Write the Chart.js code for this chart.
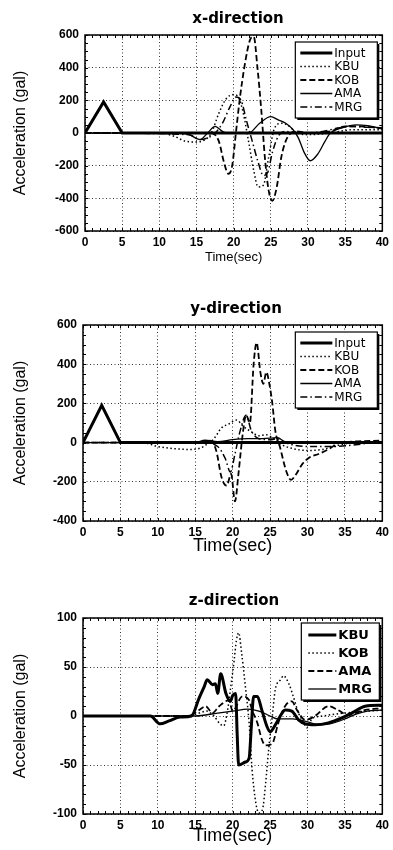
<!DOCTYPE html>
<html>
<head>
<meta charset="utf-8">
<script src="https://cdn.jsdelivr.net/npm/chart.js@4.4.1/dist/chart.umd.min.js"></script>
<style>
html, body { margin: 0; padding: 0; background: #fff; width: 393px; height: 850px; overflow: hidden; }
.panel { position: absolute; left: 0; width: 393px; }
.ttl { position: absolute; font: bold 15px "DejaVu Sans", sans-serif; color: #000; transform: translate(-50%, -50%); white-space: nowrap; }
</style>
</head>
<body>
<div class="panel" style="top:0"><canvas id="cx" width="393" height="275"></canvas></div>
<div class="panel" style="top:290px"><canvas id="cy" width="393" height="270"></canvas></div>
<div class="panel" style="top:580px"><canvas id="cz" width="393" height="270"></canvas></div>
<div class="ttl" style="left:238px;top:18px">x-direction</div>
<div class="ttl" style="left:236px;top:308px">y-direction</div>
<div class="ttl" style="left:234px;top:600px">z-direction</div>
<script>
// x-direction (gal vs sec)
const xInputT = [0, 2.5, 5, 40];
const xInputV = [0, 190, 0, 0];
const xKbuT = [0, 10, 12, 13.5, 15, 16, 17, 18, 19, 20, 20.7, 21.3, 22, 22.7, 23.3, 24, 24.7, 25.5, 26.5, 27.5, 28.5, 30, 33, 36, 40];
const xKbuV = [0, 0, -20, -50, -55, -45, 0, 120, 210, 235, 215, 120, -50, -230, -330, -320, -150, 30, 60, 40, 0, -10, 0, 20, 20];
const xKobT = [0, 17, 18, 18.7, 19.3, 19.8, 20.3, 20.8, 21.5, 22.2, 22.7, 23.2, 23.7, 24.2, 24.7, 25.2, 25.8, 26.4, 27, 27.7, 28.5, 30, 33, 35, 37, 40];
const xKobV = [0, 0, -50, -180, -250, -200, 0, 200, 420, 570, 590, 400, 150, -150, -350, -415, -330, -150, -50, 0, 10, 0, 10, 40, 40, 30];
const xAmaT = [0, 13, 14, 15.5, 16.5, 17.5, 18.5, 19, 22, 23.5, 25, 26, 27, 28, 28.7, 29.5, 30.3, 31.3, 32.3, 33, 34.5, 36.5, 38, 40];
const xAmaV = [0, 0, -10, -40, 0, 40, 10, 0, 0, 60, 100, 80, 60, 20, -30, -120, -170, -130, -50, 0, 30, 50, 45, 25];
const xMrgT = [0, 14, 15.5, 16.5, 17.5, 18.5, 19.5, 20.3, 21, 21.7, 22.5, 23.3, 24, 24.6, 25.2, 26, 27, 28, 30, 32, 34, 36, 38, 40];
const xMrgV = [0, -10, -40, -30, 0, 60, 160, 220, 200, 80, -50, -180, -260, -240, -120, -20, 10, 0, 0, 10, 30, 40, 35, 30];

// y-direction
const yInputT = [0, 2.5, 5, 40];
const yInputV = [0, 190, 0, 0];
const yKbuT = [0, 8, 10, 12, 14, 15.5, 16.5, 17.5, 18.5, 19.5, 20.5, 21.5, 22.5, 23.5, 24.5, 25.5, 26.5, 28, 30, 32, 34, 36, 40];
const yKbuV = [0, 0, -20, -30, -35, -30, -10, 20, 75, 95, 115, 80, 55, 35, 40, 20, -10, -30, -40, -35, -15, 0, 5];
const yKobT = [0, 16, 17, 17.8, 18.5, 19.2, 19.8, 20.3, 20.8, 21.3, 21.8, 22.3, 22.8, 23.2, 23.7, 24.1, 24.5, 24.9, 25.3, 25.7, 26.3, 27.2, 27.8, 28.5, 29.3, 30.3, 31.5, 33, 34, 36, 40];
const yKobV = [0, 0, 10, -40, -175, -220, -160, -300, -150, 30, 140, 100, 400, 510, 360, 300, 360, 300, 200, 60, -20, -150, -190, -160, -110, -75, -58, -30, -5, 5, 10];
const yAmaT = [0, 15, 16.3, 18, 20, 22, 24, 26, 27, 30, 40];
const yAmaV = [0, 0, 12, 5, 15, 20, 20, 25, 5, 0, 5];
const yMrgT = [0, 16, 18, 19, 19.7, 20.3, 21, 21.8, 22.5, 23.5, 25, 26, 27, 30, 33, 40];
const yMrgV = [0, 0, -20, -80, -150, -60, 60, 140, 60, 20, 15, 20, 0, -20, -20, 5];

// z-direction
const zKbuT = [0, 9, 10.3, 11.5, 13, 14.5, 15.5, 16.2, 16.6, 17.3, 17.7, 18, 18.4, 19.1, 19.7, 20, 20.4, 20.6, 20.8, 21.7, 22.2, 22.5, 22.8, 23.3, 23.9, 24.6, 25, 25.7, 26.6, 27, 27.9, 28.8, 29.7, 31, 32.8, 34.6, 35.9, 37.7, 40];
const zKbuV = [0, 0, -8, -5, -1, 0, 18, 30, 37, 32, 33, 23, 43, 23, 15, 21, 23, -18, -50, -47, -43, -10, 20, 20, 6, -11, -16, -9, 3, 6, 5, -4, -8, -9, -7, -2, 3, 10, 11];
const zKobT = [0, 14, 15.5, 16.5, 17.5, 18.3, 18.8, 19.3, 19.7, 20.2, 20.5, 20.8, 21.2, 21.7, 22.2, 22.6, 23.1, 23.5, 24, 24.4, 24.8, 25.3, 25.7, 26.4, 26.8, 27.5, 28.1, 28.8, 29.5, 29.9, 30.6, 32, 35, 40];
const zKobV = [0, 0, 3, 5, 0, -8, -10, 5, 27, 57, 77, 85, 64, 30, -7, -55, -89, -99, -95, -69, -35, 0, 27, 37, 41, 33, 20, 3, -7, -12, -3, 0, 3, 6];
const zAmaT = [0, 14, 15.5, 16.4, 17.3, 18.2, 19.5, 20, 21.3, 22.2, 22.6, 23.3, 23.9, 24.4, 25.3, 26.1, 27, 27.9, 28.6, 29.7, 31, 32.8, 34.1, 35.4, 37.6, 40];
const zAmaV = [0, 0, 6, 10, 3, 10, 16, 5, 20, 16, 6, -7, -24, -30, -28, -7, 10, 15, 6, -4, 0, 10, 6, 1, 6, 8];
const zMrgT = [0, 15, 18, 20, 22, 23.5, 25, 26, 28, 30, 31.5, 33, 35, 36.5, 38, 40];
const zMrgV = [0, 0, 3, 5, 7, 5, 0, -3, -3, -6, -9, -8, -3, 2, 5, 6];

// line looks
const THICK = { borderWidth: 3, borderDash: [] };
const DOT = { borderWidth: 1.5, borderDash: [1.5, 2.5] };
const DASH = { borderWidth: 1.8, borderDash: [6, 3] };
const THIN = { borderWidth: 1.3, borderDash: [] };
const DASHDOT = { borderWidth: 1.5, borderDash: [7, 3, 1.5, 3] };

const pts = (t, v) => t.map((tt, i) => ({ x: tt, y: v[i] }));

function series(label, t, v, look, sharp) {
    return {
        label: label,
        data: pts(t, v),
        borderColor: '#000',
        borderWidth: look.borderWidth,
        borderDash: look.borderDash,
        pointRadius: 0,
        fill: false,
        tension: sharp ? 0 : 0.4,
        cubicInterpolationMode: sharp ? 'default' : 'monotone'
    };
}

// frame, minor ticks and the in-plot legend
const framePlugin = {
    id: 'frame',
    afterDraw(chart, args, opts) {
        const { ctx, chartArea: a, scales: { x, y } } = chart;
        ctx.save();
        ctx.strokeStyle = '#000';
        ctx.setLineDash([]);
        ctx.lineWidth = 1;
        ctx.beginPath();
        for (let t = 0; t <= 40; t += 1) {
            const px = Math.round(x.getPixelForValue(t)) + 0.5;
            ctx.moveTo(px, a.top); ctx.lineTo(px, a.top + 3);
            ctx.moveTo(px, a.bottom); ctx.lineTo(px, a.bottom - 3);
        }
        for (let v = y.min; v <= y.max; v += opts.yMinor) {
            const py = Math.round(y.getPixelForValue(v)) + 0.5;
            ctx.moveTo(a.left, py); ctx.lineTo(a.left + 3, py);
            ctx.moveTo(a.right, py); ctx.lineTo(a.right - 3, py);
        }
        ctx.stroke();
        ctx.lineWidth = 1.5;
        ctx.strokeRect(a.left, a.top, a.width, a.height);

        // legend box
        const L = opts.legend;
        const bx = a.right - L.fromRight, by = a.top + L.fromTop;
        ctx.fillStyle = '#000';
        ctx.fillRect(bx + 2, by + 2, L.w, L.h);
        ctx.fillStyle = '#fff';
        ctx.fillRect(bx, by, L.w, L.h);
        ctx.lineWidth = 1.2;
        ctx.strokeRect(bx, by, L.w, L.h);
        ctx.font = L.font;
        ctx.textBaseline = 'middle';
        ctx.fillStyle = '#000';
        chart.data.datasets.forEach((ds, i) => {
            const ly = by + L.first + i * L.step;
            ctx.lineWidth = ds.borderWidth;
            ctx.setLineDash(ds.borderDash || []);
            ctx.beginPath();
            ctx.moveTo(bx + L.lineX0, ly);
            ctx.lineTo(bx + L.lineX1, ly);
            ctx.stroke();
            ctx.setLineDash([]);
            ctx.fillText(ds.label, bx + L.textX, ly + 0.5);
        });
        ctx.restore();
    }
};

function makeChart(id, datasets, o) {
    return new Chart(document.getElementById(id), {
        type: 'line',
        data: { datasets: datasets },
        plugins: [framePlugin],
        options: {
            responsive: false,
            animation: false,
            events: [],
            layout: { padding: { left: 0, right: o.padRight, top: o.padTop, bottom: 0 } },
            plugins: {
                legend: { display: false },
                tooltip: { enabled: false },
                frame: { yMinor: o.yMinor, legend: o.legend }
            },
            scales: {
                x: {
                    type: 'linear',
                    min: 0, max: 40,
                    afterFit: (s) => { s.height = o.xAxisH; },
                    ticks: { stepSize: 5, padding: 4, color: '#000', font: { family: 'Liberation Sans', weight: 'bold', size: 12 } },
                    grid: { color: '#000', lineWidth: 0.8, drawTicks: false },
                    border: { display: false, dash: [1, 2.5] },
                    title: { display: true, text: 'Time(sec)', color: '#000', padding: { top: 0, bottom: o.xTitlePad }, font: { family: 'Liberation Sans', size: o.xTitleSize } }
                },
                y: {
                    min: o.yMin, max: o.yMax,
                    afterFit: (s) => { s.width = o.yAxisW; },
                    ticks: { stepSize: o.yStep, padding: 6, color: '#000', font: { family: 'Liberation Sans', weight: 'bold', size: 12 } },
                    grid: { color: '#000', lineWidth: 0.8, drawTicks: false },
                    border: { display: false, dash: [1, 2.5] },
                    title: { display: true, text: 'Acceleration (gal)', color: '#000', padding: { top: 11, bottom: 0 }, font: { family: 'Liberation Sans', size: 16 } }
                }
            }
        }
    });
}

const legendAB = { fromRight: 87, fromTop: 7, w: 82, h: 76, first: 11, step: 13.5, lineX0: 5, lineX1: 37, textX: 39, font: '12px "DejaVu Sans"' };
const legendC = { fromRight: 81, fromTop: 5, w: 78, h: 77, first: 12, step: 18, lineX0: 7, lineX1: 35, textX: 37, font: 'bold 13px "DejaVu Sans"' };

makeChart('cx', [
    series('Input', xInputT, xInputV, THICK, true),
    series('KBU', xKbuT, xKbuV, DOT),
    series('KOB', xKobT, xKobV, DASH),
    series('AMA', xAmaT, xAmaV, THIN),
    series('MRG', xMrgT, xMrgV, DASHDOT)
], { padRight: 8, padTop: 35, xAxisH: 44, xTitlePad: 10, xTitleSize: 13, yAxisW: 85, yMin: -600, yMax: 600, yStep: 200, yMinor: 50, legend: legendAB });

makeChart('cy', [
    series('Input', yInputT, yInputV, THICK, true),
    series('KBU', yKbuT, yKbuV, DOT),
    series('KOB', yKobT, yKobV, DASH),
    series('AMA', yAmaT, yAmaV, THIN),
    series('MRG', yMrgT, yMrgV, DASHDOT)
], { padRight: 10, padTop: 35, xAxisH: 39, xTitlePad: 3, xTitleSize: 18, yAxisW: 83, yMin: -400, yMax: 600, yStep: 200, yMinor: 50, legend: legendAB });

makeChart('cz', [
    series('KBU', zKbuT, zKbuV, THICK),
    series('KOB', zKobT, zKobV, DOT),
    series('AMA', zAmaT, zAmaV, DASH),
    series('MRG', zMrgT, zMrgV, THIN)
], { padRight: 9, padTop: 38, xAxisH: 36, xTitlePad: 3, xTitleSize: 18, yAxisW: 83, yMin: -100, yMax: 100, yStep: 50, yMinor: 10, legend: legendC });
</script>
</body>
</html>
